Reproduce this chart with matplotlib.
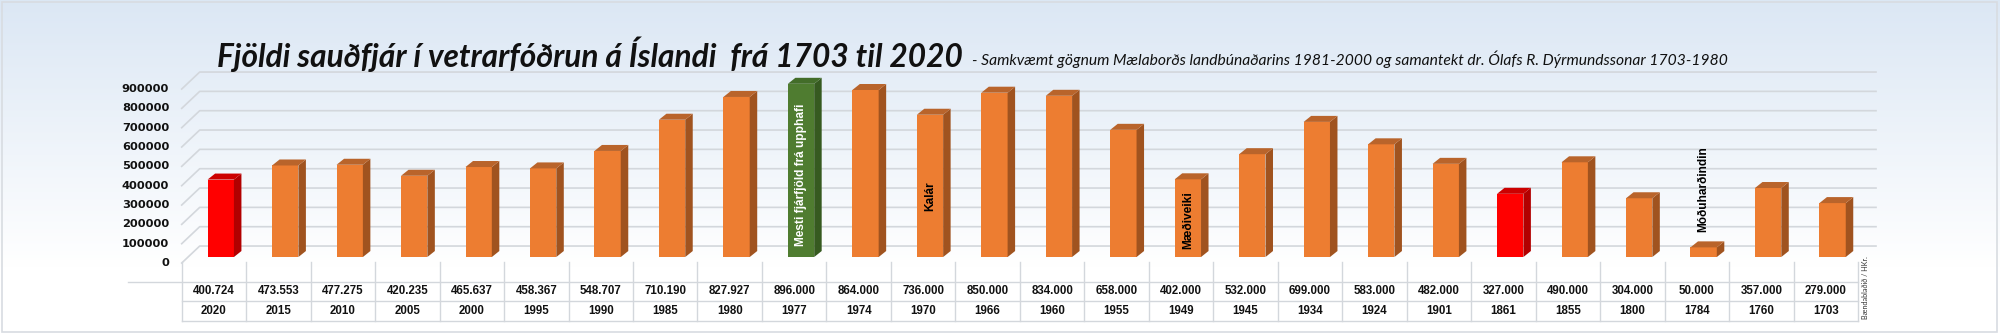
import numpy as np
import matplotlib.pyplot as plt
from matplotlib import font_manager
from matplotlib.patches import Polygon, Rectangle
from matplotlib.transforms import ScaledTranslation

# Gögn: ártal og fjöldi sauðfjár
ar = ["2020", "2015", "2010", "2005", "2000", "1995", "1990", "1985", "1980", "1977",
      "1974", "1970", "1966", "1960", "1955", "1949", "1945", "1934", "1924", "1901",
      "1861", "1855", "1800", "1784", "1760", "1703"]
fjoldi = [400724, 473553, 477275, 420235, 465637, 458367, 548707, 710190, 827927, 896000,
          864000, 736000, 850000, 834000, 658000, 402000, 532000, 699000, 583000, 482000,
          327000, 490000, 304000, 50000, 357000, 279000]
rauð_ar = ["2020", "1861"]
græn_ar = ["1977"]
skyringar = {"1977": "Mesti fjárfjöld frá upphafi", "1970": "Kalár",
             "1949": "Mæðiveiki", "1784": "Móðuharðindin"}
y_ticks = list(range(0, 900001, 100000))

titill = "Fjöldi sauðfjár í vetrarfóðrun á Íslandi  frá 1703 til 2020"
undirtitill = ("- Samkvæmt gögnum Mælaborðs landbúnaðarins 1981-2000 og samantekt "
               "dr. Ólafs R. Dýrmundssonar 1703-1980")

# mjótt letur í titil ef það er til
nofn = {f.name for f in font_manager.fontManager.ttflist}
mjott = "Liberation Sans Narrow" if "Liberation Sans Narrow" in nofn else "Lato"

W, H = 2000, 333
fig = plt.figure(figsize=(W / 100, H / 100), dpi=100)

# bakgrunnur með litaskiptingu
bg = fig.add_axes([0, 0, 1, 1], zorder=-10)
t = np.clip(np.linspace(0, 1, 200) / 0.8, 0, 1)[:, None]
c0 = np.array([0.860, 0.906, 0.958])
c1 = np.array([1.0, 1.0, 1.0])
grad = (c0 * (1 - t) + c1 * t)[:, None, :]
bg.imshow(grad, aspect="auto", extent=[0, 1, 0, 1])
bg.add_patch(Rectangle((0.001, 0.004), 0.9975, 0.99, fill=False, ec="#D8DCE1", lw=1.2))
bg.set_xlim(0, 1)
bg.set_ylim(0, 1)
bg.axis("off")

# aðalásar
ax_l, ax_w = 181.7 / W, (1858 - 181.7) / W
ax = fig.add_axes([ax_l, 0.1991, ax_w, 0.6096])
ax.set_xlim(-0.5, 25.5)
ax.set_ylim(-50000, 1000000)
ax.patch.set_alpha(0)
for s in ax.spines.values():
    s.set_visible(False)
ax.set_xticks([])
ax.set_yticks([])

px_x = 64.46
px_y = 19.33 / 100000


def ux(p):
    return p / px_x


def uy(p):
    return p / px_y


# grindarlínur á bakvegg
back_dx, back_dy, front_dy = ux(18), uy(11), uy(-6)
for v in y_ticks:
    ax.plot([-0.5, -0.5 + back_dx, 25.5 + back_dx],
            [v + front_dy, v + back_dy, v + back_dy],
            color="#D3D7DC", lw=1.2, zorder=1, clip_on=False)
    ax.text(-0.5, v + front_dy, str(v), ha="right", va="center", fontsize=8.2,
            fontweight="bold", color="#111111",
            transform=ax.transData + ScaledTranslation(-0.125, 0, fig.dpi_scale_trans))

# súlur í þrívídd
bw = 0.408
dx, dy = ux(7.5), uy(6)
for i, (a, v) in enumerate(zip(ar, fjoldi)):
    if a in rauð_ar:
        front, side, top = "#FF0000", "#B20000", "#CC0000"
    elif a in græn_ar:
        front, side, top = "#4F7C30", "#365A20", "#436D29"
    else:
        front, side, top = "#ED7D31", "#A0531F", "#B9642B"
    xl = i - 0.098
    xr = xl + bw
    ax.bar(xl, v, width=bw, align="edge", color=front, zorder=3)
    ax.add_patch(Polygon([(xr, 0), (xr + dx, dy), (xr + dx, v + dy), (xr, v)],
                         closed=True, fc=side, ec="none", zorder=3))
    ax.add_patch(Polygon([(xl, v), (xl + dx, v + dy), (xr + dx, v + dy), (xr, v)],
                         closed=True, fc=top, ec="none", zorder=3))

fig.canvas.draw()
rend = fig.canvas.get_renderer()


def fit(txt, target, vertical=False):
    bb = txt.get_window_extent(rend)
    size = bb.height if vertical else bb.width
    txt.set_fontsize(txt.get_fontsize() * target / size)


# skýringar inni í súlum
stadir = {"1977": (426800, "white"), "1970": (313000, "black"),
          "1949": (191000, "black"), "1784": (352000, "black")}
for a, texti in skyringar.items():
    i = ar.index(a)
    yv, lit = stadir[a]
    ax.text(i - 0.098 + bw / 2, yv, texti, rotation=90, ha="center", va="center",
            fontsize=8.6, fontweight="bold", color=lit, family="Liberation Sans",
            zorder=5)

# tafla undir myndinni
tab = fig.add_axes([ax_l, 12 / H, ax_w, 59 / H])
tab.set_xlim(-0.5, 25.5)
tab.set_ylim(0, 3)
tab.axis("off")
lina = dict(color="#D3D7DC", lw=1.0, clip_on=False)
for k in range(len(ar) + 1):
    tab.plot([k - 0.5, k - 0.5], [0, 3], **lina)
tab.plot([-1.334, 25.5], [2, 2], **lina)
tab.plot([-0.5, 25.5], [1, 1], **lina)
tab.plot([-0.5, 25.5], [0, 0], **lina)
for i, (a, v) in enumerate(zip(ar, fjoldi)):
    tab.text(i, 1.5, f"{v:,}".replace(",", "."), ha="center", va="center",
             fontsize=8.3, fontweight="bold", family="Liberation Sans", color="#111111")
    tab.text(i, 0.5, a, ha="center", va="center",
             fontsize=8.3, fontweight="bold", family="Liberation Sans", color="#111111")

# heimild
hk = fig.text(1866 / W, (H - 288) / H, "Bændablaðið / HKr.", rotation=90,
              ha="center", va="center", fontsize=5, color="#333333", family="Lato")
fit(hk, 63, vertical=True)

# titill og undirtitill
tt = fig.text(217 / W, (H - 67) / H, titill, fontsize=24, fontweight="bold",
              style="italic", family=mjott, va="baseline", color="#111111")
fit(tt, 746)
st = fig.text(972 / W, (H - 65) / H, undirtitill, fontsize=11, style="italic",
              family=mjott, va="baseline", color="#111111")
fit(st, 756)

fig.savefig("out.png", dpi=100)
